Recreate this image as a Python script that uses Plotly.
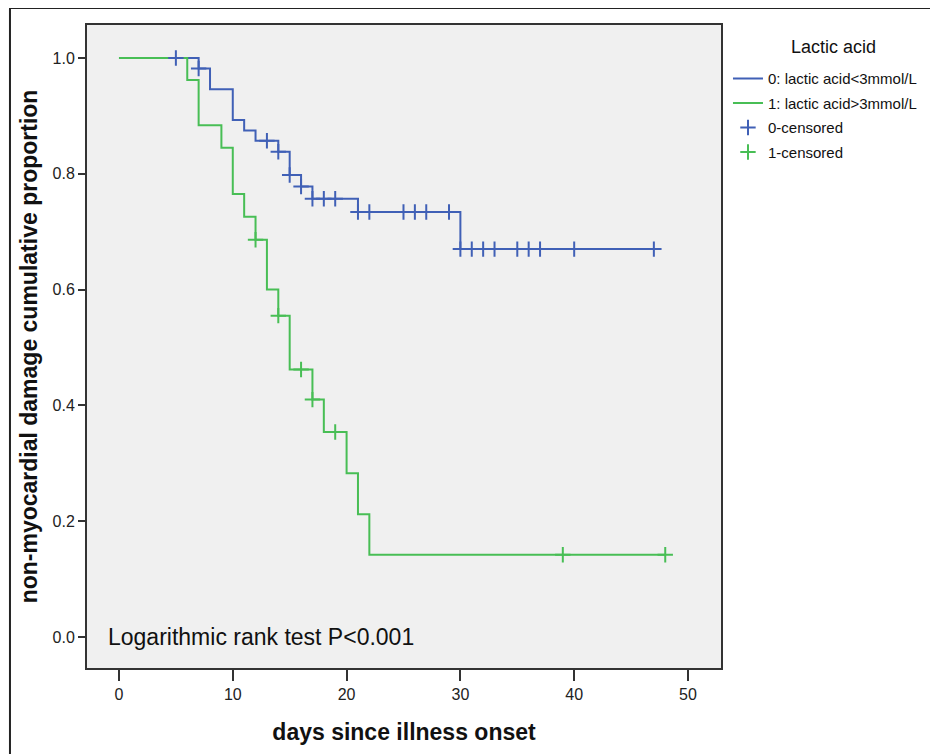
import plotly.graph_objects as go

# ---- data ----
# group 0: lactic acid < 3 mmol/L  (step times and cumulative proportion after each step)
g0_times = [0, 7, 8, 10, 11, 12, 14, 15, 16, 17, 21, 30, 47]
g0_surv = [1.0, 0.982, 0.946, 0.893, 0.875, 0.857, 0.838, 0.798, 0.778, 0.757, 0.734, 0.670, 0.670]
g0_censored = [5, 7, 13, 14, 15, 16, 17, 18, 19, 21, 22, 25, 26, 27, 29,
               30, 31, 32, 33, 35, 36, 37, 40, 47]

# group 1: lactic acid > 3 mmol/L
g1_times = [0, 6, 7, 9, 10, 11, 12, 13, 14, 15, 17, 18, 20, 21, 22, 48]
g1_surv = [1.0, 0.962, 0.884, 0.845, 0.765, 0.726, 0.686, 0.600, 0.555, 0.462, 0.410, 0.354,
           0.283, 0.212, 0.142, 0.142]
g1_censored = [12, 14, 16, 17, 19, 39, 48]

names = ["0: lactic acid<3mmol/L", "1: lactic acid>3mmol/L", "0-censored", "1-censored"]
legend_title = "Lactic acid"
x_title = "days since illness onset"
y_title = "non-myocardial damage cumulative proportion"
note = "Logarithmic rank test P<0.001"
x_ticks = [0, 10, 20, 30, 40, 50]
y_ticks = [0.0, 0.2, 0.4, 0.6, 0.8, 1.0]

BLUE = "#4060B6"
GREEN = "#48BE55"


def surv_at(times, surv, t):
    val = surv[0]
    for ti, si in zip(times, surv):
        if ti <= t:
            val = si
    return val


fig = go.Figure()

fig.add_trace(go.Scatter(x=g0_times, y=g0_surv, mode="lines", line_shape="hv",
                         line=dict(color=BLUE, width=2), name=names[0], legendgroup="a"))
fig.add_trace(go.Scatter(x=g1_times, y=g1_surv, mode="lines", line_shape="hv",
                         line=dict(color=GREEN, width=2), name=names[1], legendgroup="b"))
fig.add_trace(go.Scatter(x=g0_censored, y=[surv_at(g0_times, g0_surv, t) for t in g0_censored],
                         mode="markers", name=names[2], legendgroup="c",
                         marker=dict(symbol="cross-thin", size=11, line=dict(color=BLUE, width=2))))
fig.add_trace(go.Scatter(x=g1_censored, y=[surv_at(g1_times, g1_surv, t) for t in g1_censored],
                         mode="markers", name=names[3], legendgroup="d",
                         marker=dict(symbol="cross-thin", size=11, line=dict(color=GREEN, width=2))))

fig.add_annotation(x=0.03, y=0.0, xref="paper", yref="y", text=note, showarrow=False,
                   xanchor="left", yanchor="middle",
                   font=dict(family="Liberation Sans Narrow, Arial, sans-serif", size=23, color="#111"))

# legend title as a separate centred label
fig.add_annotation(x=1.1767, y=0.9658, xref="paper", yref="paper", text=legend_title,
                   showarrow=False, xanchor="center", yanchor="middle",
                   font=dict(size=18, color="#111"))

# outer black frame
fig.add_shape(type="rect", xref="paper", yref="paper", x0=-0.1215, y0=1.0264, x1=1.36, y1=-0.15,
              line=dict(color="#222", width=2), fillcolor="rgba(0,0,0,0)", layer="above")

fig.update_layout(
    width=930, height=746,
    margin=dict(l=79, r=217, t=17, b=86),
    paper_bgcolor="white", plot_bgcolor="#F0F0F0",
    font=dict(family="Arial, Liberation Sans, sans-serif", color="#111"),
    showlegend=True,
    legend=dict(x=1.011, xanchor="left", y=0.942, yanchor="top",
                font=dict(size=15), traceorder="grouped", tracegroupgap=2,
                bgcolor="rgba(0,0,0,0)"),
    xaxis=dict(range=[-2.81, 52.9], tickvals=x_ticks, ticktext=[str(v) for v in x_ticks],
               ticks="outside", ticklen=11, tickwidth=2, tickcolor="#333",
               showgrid=False, zeroline=False, showline=True, mirror=True,
               linecolor="#333", linewidth=2,
               tickfont=dict(family="Liberation Sans Narrow, Arial, sans-serif", size=16, color="#222"),
               title=dict(text="<b>" + x_title + "</b>", standoff=22,
                          font=dict(family="Liberation Sans Narrow, Arial, sans-serif", size=23, color="#111"))),
    yaxis=dict(range=[-0.0535, 1.057], tickvals=y_ticks, ticktext=["%.1f" % v for v in y_ticks],
               ticks="outside", ticklen=7, tickwidth=2, tickcolor="#333",
               showgrid=False, zeroline=False, showline=True, mirror=True,
               linecolor="#333", linewidth=2,
               tickfont=dict(size=16, color="#222"),
               title=dict(text="<b>" + y_title + "</b>", standoff=8,
                          font=dict(size=23, color="#111"))),
)

fig.write_html("out.html")
